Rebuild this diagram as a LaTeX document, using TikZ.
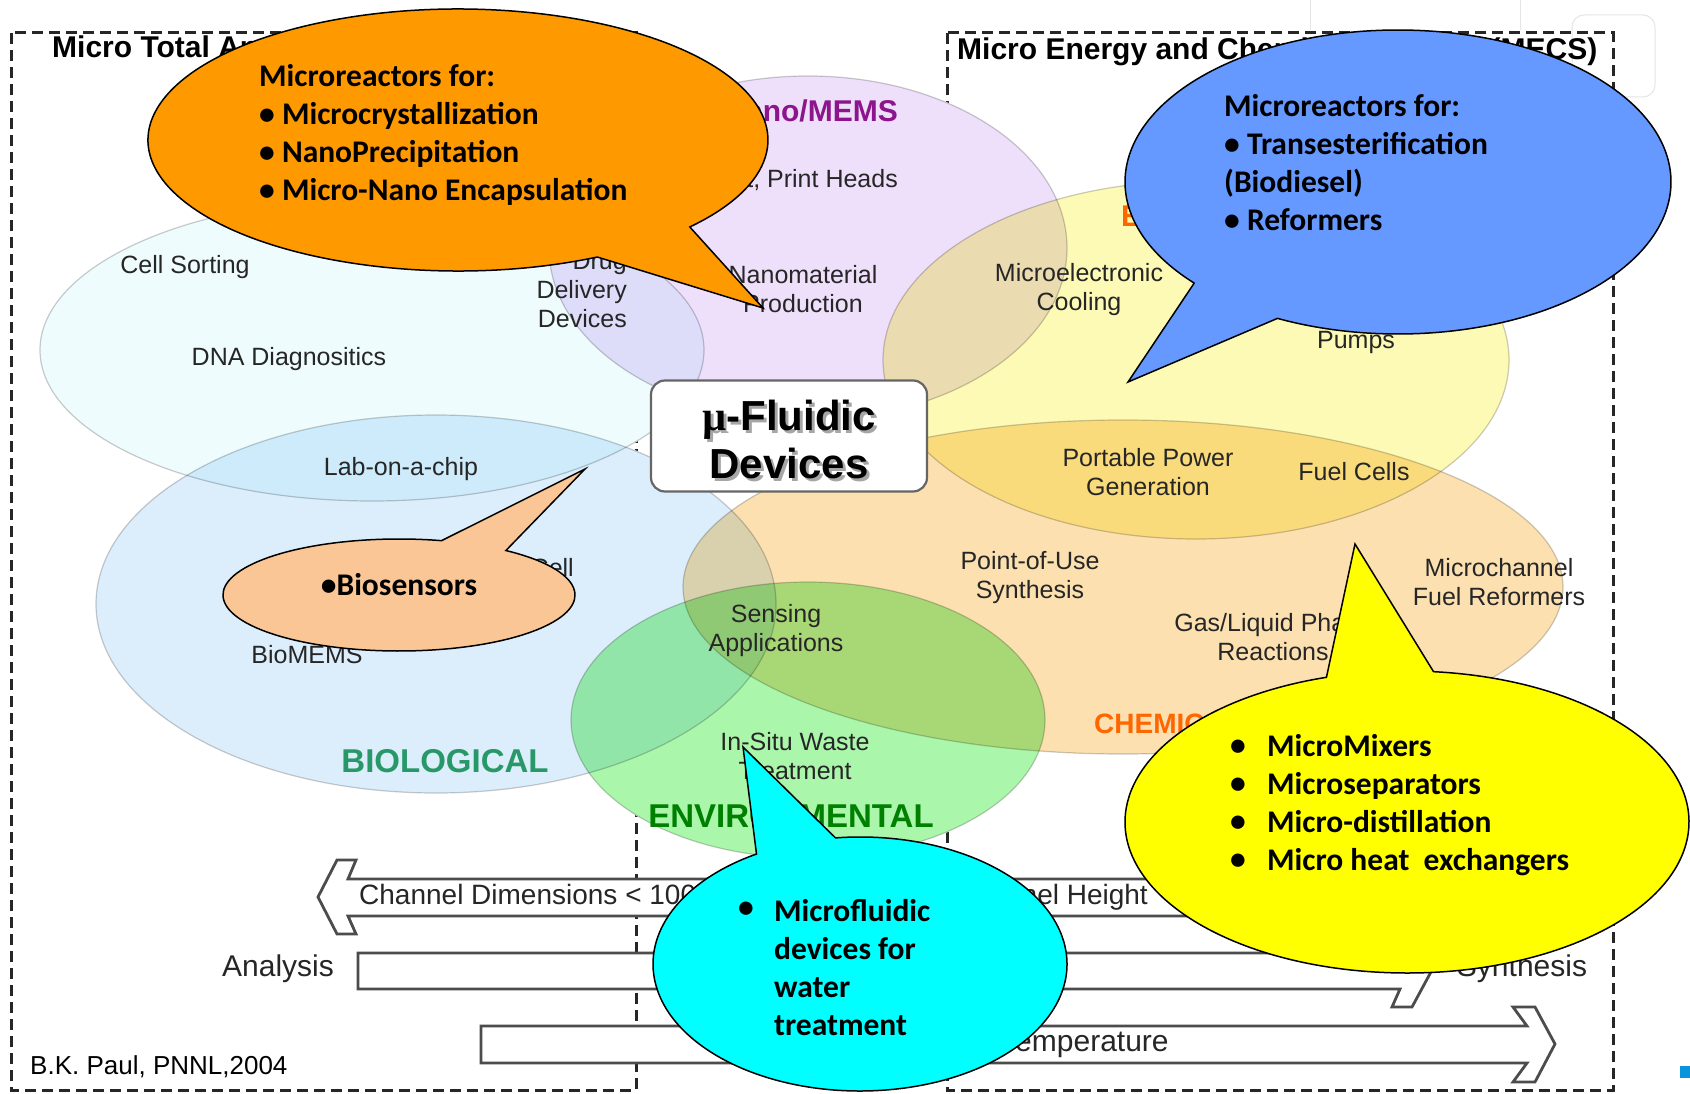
\documentclass[tikz,border=0pt]{standalone}
\usepackage{fontspec}
\setmainfont{Liberation Sans}
\newfontfamily\calloutfont{Carlito}
\newfontfamily\mufont{Liberation Serif}
\usetikzlibrary{calc}

\definecolor{cellfill}{RGB}{238,252,254}
\definecolor{biofill}{RGB}{220,238,252}
\definecolor{memsfill}{RGB}{238,224,250}
\definecolor{energyfill}{RGB}{252,250,180}
\definecolor{chemfill}{RGB}{252,224,176}
\definecolor{envfill}{RGB}{170,246,170}
\definecolor{memstext}{RGB}{140,20,140}
\definecolor{biotext}{RGB}{40,152,104}
\definecolor{envtext}{RGB}{0,128,0}
\definecolor{chemtext}{RGB}{255,102,0}
\definecolor{orangebub}{RGB}{255,153,0}
\definecolor{bluebub}{RGB}{102,153,255}
\definecolor{peachbub}{RGB}{250,198,150}
\definecolor{cyanbub}{RGB}{0,255,255}
\definecolor{yellowbub}{RGB}{255,255,0}

\newcommand{\labelSize}{\fontsize{25}{29}\selectfont}
\newcommand{\bandSize}{\fontsize{28}{32}\selectfont}
\newcommand{\calloutSize}{\fontsize{31.5}{38}\selectfont}

\begin{document}
\begin{tikzpicture}[x=1pt, y=-1pt]
  \tikzset{
    region/.style={draw=black!20, line width=1.2pt},
    lbl/.style={font=\labelSize, text=black!85, align=center, inner sep=0pt},
    bandlbl/.style={font=\bandSize, text=black!85, inner sep=0pt},
    zone/.style={font=\bfseries\fontsize{30}{34}\selectfont, inner sep=0pt},
    frame/.style={draw=black!85, line width=3pt, dash pattern=on 11pt off 6pt},
    band/.style={draw=black!70, line width=2.8pt, fill=white},
    bubble/.style={draw=black, line width=1.5pt},
    bubtext/.style={font=\calloutfont\bfseries\calloutSize, align=left, inner sep=0pt},
  }
  \fill[white] (0,0) rectangle (1690,1094);
  \useasboundingbox (0,0) rectangle (1690,1094);

  % leftovers of the slide frame
  \draw[black!10, line width=1pt] (1310,0) -- (1310,30) (1520,0) -- (1520,30);
  \draw[black!10, line width=1pt, rounded corners=12pt] (1572,15) rectangle (1655,97);
  \fill[cyan!80!blue] (1680,1066) rectangle (1690,1078);

  % the two system boxes
  \draw[frame] (11,33) rectangle (636,1090);
  \draw[frame] (947,33) rectangle (1613,1090);

  % application fields
  \begin{scope}[blend group=multiply]
    \filldraw[region, fill=cellfill] (372,350) ellipse [x radius=332, y radius=151];
    \filldraw[region, fill=biofill] (436,604) ellipse [x radius=340, y radius=189];
    \filldraw[region, fill=memsfill] (808,248) ellipse [x radius=259, y radius=172];
    \filldraw[region, fill=energyfill] (1196,360) ellipse [x radius=313, y radius=179];
    \filldraw[region, fill=chemfill] (1123,587) ellipse [x radius=440, y radius=167];
    \filldraw[region, fill=envfill] (808,720) ellipse [x radius=237, y radius=138];
  \end{scope}

  \node[zone, anchor=west] (mtas) at (52,50) {Micro Total Analysis Systems (µTAS)};
  \node[zone, anchor=west] (mecs) at (957,52) {Micro Energy and Chemical Systems (MECS)};
  \node[zone, text=memstext, anchor=east] (nanomems) at (898,111) {Nano/MEMS};
  \node[lbl, anchor=east] (inkjet) at (898,180) {Ink Jet, Print Heads};
  \node[lbl] (nanomat) at (803,289) {Nanomaterial\\Production};
  \node[lbl, align=right, anchor=east] (drugdel) at (627,290) {Drug\\Delivery\\Devices};
  \node[lbl] (cellsort) at (185,267) {Cell Sorting};
  \node[lbl] (dnadiag) at (289,359) {DNA Diagnositics};
  \node[lbl] (labchip) at (401,469) {Lab-on-a-chip};
  \node[lbl, anchor=east] (cellbased) at (574,568) {Cell};
  \node[lbl] (biomems) at (307,655) {BioMEMS};
  \node[zone, font=\bfseries\fontsize{33}{36}\selectfont, text=biotext] (biological) at (445,761) {BIOLOGICAL};
  \node[lbl] (sensing) at (776,631) {Sensing\\Applications};
  \node[lbl] (insitu) at (795,756) {In-Situ Waste\\Treatment};
  \node[zone, font=\bfseries\fontsize{33}{36}\selectfont, text=envtext] (environmental) at (791,816) {ENVIRONMENTAL};
  \node[lbl] (microcool) at (1079,290) {Microelectronic\\Cooling};
  \node[lbl] (pumps) at (1356,342) {Pumps};
  \node[zone, text=chemtext, anchor=west] (energy) at (1121,216) {ENERGY};
  \node[lbl] (portpower) at (1148,472) {Portable Power\\Generation};
  \node[lbl] (fuelcells) at (1354,472) {Fuel Cells};
  \node[lbl] (pointofuse) at (1030,578) {Point-of-Use\\Synthesis};
  \node[lbl] (microchannel) at (1499,582) {Microchannel\\Fuel Reformers};
  \node[lbl] (gasliquid) at (1273,637) {Gas/Liquid Phase\\Reactions};
  \node[zone, font=\bfseries\fontsize{28}{32}\selectfont, text=chemtext, anchor=west] (chemical) at (1094,724) {CHEMICAL};

  % centre box
  \node[draw=black!60, line width=2.2pt, fill=white, rounded corners=14pt,
        minimum width=276pt, minimum height=111pt] (devbox) at (789,436) {};
  \node[font=\bfseries\fontsize{42}{48}\selectfont, text=black!35, align=center, inner sep=0pt]
    (devshadow) at ($(devbox.center)+(3,6)$) {{\mufont µ}-Fluidic\\Devices};
  \node[font=\bfseries\fontsize{42}{48}\selectfont, align=center, inner sep=0pt]
    (devlabel) at ($(devbox.center)+(0,3)$) {{\mufont µ}-Fluidic\\Devices};

  % scale arrows
  \draw[band] (1280,879) -- (348,879) -- (356,860) -- (337,860) -- (318,897)
    -- (337,934) -- (356,934) -- (348,916) -- (1280,916) -- cycle;
  \draw[band] (358,953) -- (1400,953) -- (1392,933) -- (1412,933) -- (1432,970)
    -- (1412,1007) -- (1392,1007) -- (1400,989) -- (358,989) -- cycle;
  \draw[band] (481,1026) -- (1527,1026) -- (1513,1007) -- (1535,1007) -- (1555,1044)
    -- (1535,1082) -- (1513,1082) -- (1527,1063) -- (481,1063) -- cycle;
  \node[bandlbl, anchor=west] (chanlabel) at (359,897) {Channel Dimensions < 100 µm};
  \node[bandlbl, anchor=east] (heightlabel) at (1148,897) {Channel Height};
  \node[bandlbl, font=\fontsize{30}{34}\selectfont] (analysis) at (278,969) {Analysis};
  \node[bandlbl, font=\fontsize{30}{34}\selectfont] (synthesis) at (1522,969) {Synthesis};
  \node[bandlbl, font=\fontsize{30}{34}\selectfont, anchor=west] (templabel) at (1000,1044) {Temperature};
  \node[lbl, font=\fontsize{26}{30}\selectfont, text=black, anchor=west] (credit) at (30,1067) {B.K. Paul, PNNL,2004};

  % callouts
  \filldraw[bubble, fill=orangebub] ($(458,140)+(63.3:310 and 131)$)
    arc[start angle=63.3, end angle=401.6, x radius=310, y radius=131]
    -- (763,308) -- cycle;
  \node[bubtext, anchor=west] (orangetext) at (259,135)
    {Microreactors for:\\• Microcrystallization\\• NanoPrecipitation\\• Micro-Nano Encapsulation};

  \filldraw[bubble, fill=bluebub] ($(1398,182)+(138.3:273 and 152)$)
    arc[start angle=138.3, end angle=476.2, x radius=273, y radius=152]
    -- (1128,382) -- cycle;
  \node[bubtext, anchor=west] (bluetext) at (1224,163)
    {Microreactors for:\\• Transesterification\\(Biodiesel)\\• Reformers};

  \filldraw[bubble, fill=peachbub] ($(399,595)+(-52.6:176 and 56)$)
    arc[start angle=-52.6, end angle=284, x radius=176, y radius=56]
    -- (585,469) -- cycle;
  \node[bubtext] (biotext) at (399,585) {•Biosensors};

  \filldraw[bubble, fill=cyanbub] ($(860,964)+(-96.8:207 and 127)$)
    arc[start angle=-96.8, end angle=240, x radius=207, y radius=127]
    -- (743,747) -- cycle;
  \node[bubtext, anchor=west] (cyanbullet) at (738,910) {•};
  \node[bubtext, anchor=west] (cyantext) at (774,968) {Microfluidic\\devices for\\water\\treatment};

  \filldraw[bubble, fill=yellowbub] ($(1407,822)+(-84.6:282 and 151)$)
    arc[start angle=-84.6, end angle=253.4, x radius=282, y radius=151]
    -- (1355,544) -- cycle;
  \node[bubtext, anchor=west] (yellowbullets) at (1230,805) {•\\•\\•\\•};
  \node[bubtext, anchor=west] (yellowtext) at (1267,805)
    {MicroMixers\\Microseparators\\Micro-distillation\\Micro heat\ \ exchangers};
\end{tikzpicture}
\end{document}
